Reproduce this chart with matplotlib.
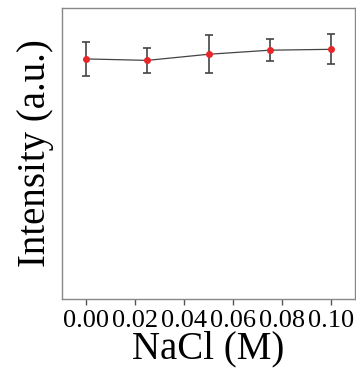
import matplotlib
matplotlib.use("Agg")
import matplotlib.pyplot as plt

# data (y axis in arbitrary units, 0-100)
nacl = [0.00, 0.025, 0.05, 0.075, 0.10]
intensity = [82.5, 82.0, 84.1, 85.5, 85.8]
err = [5.7, 4.2, 6.5, 3.7, 5.2]
xticks = [0.00, 0.02, 0.04, 0.06, 0.08, 0.10]
xticklabels = ["0.00", "0.02", "0.04", "0.06", "0.08", "0.10"]

plt.rcParams["font.family"] = ["Liberation Serif", "DejaVu Serif"]

fig = plt.figure(figsize=(3.56, 3.85), dpi=100)
ax = fig.add_axes([62 / 356, 86 / 385, 293 / 356, 291 / 385])

ax.errorbar(nacl, intensity, yerr=err, color="#444444", lw=0.9,
            elinewidth=1.2, capsize=3, capthick=1.2,
            marker="o", markersize=4, markerfacecolor="#e8262a",
            markeredgecolor="#e8262a", zorder=3)

ax.set_xlim(-0.0098, 0.1098)
ax.set_ylim(0, 100)
ax.set_xticks(xticks)
ax.set_xticklabels(xticklabels, fontsize=19)
ax.set_yticks([])
ax.tick_params(axis="x", direction="out", length=4, width=1,
               color="#555555", pad=4)

for s in ax.spines.values():
    s.set_color("#888888")
    s.set_linewidth(1)

ax.set_xlabel("NaCl (M)", fontsize=28, labelpad=-1)
ax.set_ylabel("Intensity (a.u.)", fontsize=28, labelpad=6)

fig.savefig("out.png", dpi=100)
